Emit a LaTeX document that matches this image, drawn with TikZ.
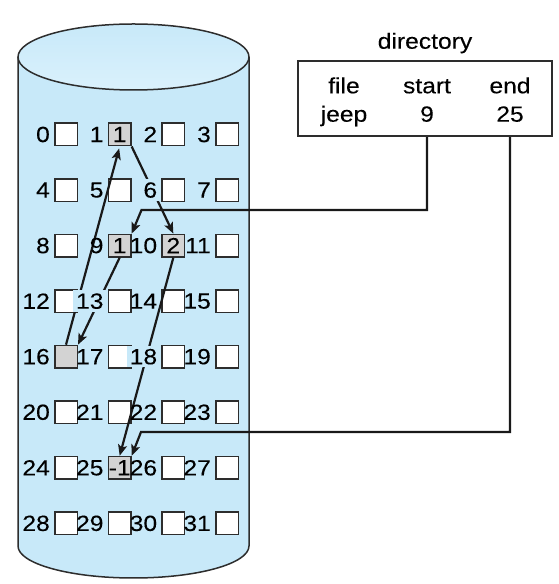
\documentclass[tikz,border=0pt]{standalone}
\usepackage{fontspec}
\setmainfont{Liberation Sans}[FakeStretch=1.12, FakeBold=0.1]
\usetikzlibrary{arrows.meta, positioning, calc}
\definecolor{cylblue}{RGB}{200,233,249}
\definecolor{cyltop}{RGB}{218,241,252}
\definecolor{blkgray}{RGB}{211,211,211}
\definecolor{inkgray}{RGB}{45,45,45}
\tikzset{
    %Define standard arrow tip
    >={Stealth[length=11pt,width=9pt,inset=2.5pt]},
    %Define style for disk blocks
    blk/.style={
           rectangle,
           draw=inkgray, line width=1.5pt,
           fill=white,
           minimum size=22.5pt,
           inner sep=0pt},
    usedblk/.style={blk, fill=blkgray},
    %Define style for directory box
    dirbox/.style={
           rectangle,
           draw=inkgray, line width=2.2pt,
           minimum width=254pt,
           minimum height=75pt},
    % Define style for block numbers
    numlbl/.style={inner sep=3pt},
    gapcut/.code={% labels that cut a link
      \ifnum#1=6 \pgfkeysalso{fill=cylblue}\fi
      \ifnum#1=13 \pgfkeysalso{fill=cylblue}\fi
      \ifnum#1=18 \pgfkeysalso{fill=cylblue}\fi
    },
    % Define arrow style
    pil/.style={
           ->,
           line width=2.2pt,
           draw=black!90}
}

\begin{document}
\begin{tikzpicture}[x=1pt, y=1pt, font=\fontsize{22}{28}\selectfont]
	\useasboundingbox (0,0) rectangle (559,584);
	%
	% disque
	%
	\filldraw[fill=cylblue, draw=inkgray, line width=1.5pt] (18,527) -- (18,38)
	    arc[start angle=180, end angle=360, x radius=115.5, y radius=32] -- (249,527);
	\draw[draw=inkgray, line width=1.5pt, top color=cylblue, bottom color=cyltop]
	    (133.5,527) ellipse [x radius=115.5, y radius=33];
	%
	% blocs
	%
	\foreach \n in {0,...,31}{
	    \pgfmathtruncatemacro\blkrow{\n/4}
	    \pgfmathtruncatemacro\blkcol{mod(\n,4)}
	    \coordinate (p\n) at ({66+53.67*\blkcol},{449.5-55.55*\blkrow});
	}
	\foreach \n in {0,2,3,4,5,6,7,8,11,12,13,14,15,17,18,19,20,21,22,23,24,26,27,28,29,30,31}
	    \node[blk] (b\n) at (p\n) {};
	\foreach \n/\v in {1/1, 9/1, 10/2, 16/{}, 25/-1}
	    \node[usedblk] (b\n) at (p\n) {\v};
	%
	% directory
	%
	\node[dirbox] (dir) at (425,485.5) {};
	\node[inner sep=0pt, above=6.4pt of dir] (dirname) {directory};
	\node[anchor=base] (hfile) at (344,490.7) {file};
	\node[anchor=base] (hstart) at (427,490.7) {start};
	\node[anchor=base] (hend) at (510,490.7) {end};
	\node[anchor=base] (vfile) at (344,462.3) {jeep};
	\node[anchor=base] (vstart) at (427,462.3) {9};
	\node[anchor=base] (vend) at (510,462.3) {25};
	%
	% liens
	%
	\coordinate (sbend) at (141.5,374);
	\coordinate (ebend) at (141,152);
	\draw[pil] (vstart |- dir.south) |- (sbend) -- (b9.north east);
	\draw[pil] (vend |- dir.south) |- (ebend) -- (b25.north east);
	\draw[pil] (b9.south) -- (b16.north east);
	\draw[pil, shorten >=2pt] (b16.north) -- (b1.south);
	\draw[pil] (b1.south east) -- (b10.north);
	\draw[pil] (b10.south) -- (b25.north);
	%
	% numeros
	%
	\foreach \n in {0,...,31}
	    \node[numlbl, gapcut=\n, left=1pt of b\n] (l\n) {\n};
\end{tikzpicture}
\end{document}
